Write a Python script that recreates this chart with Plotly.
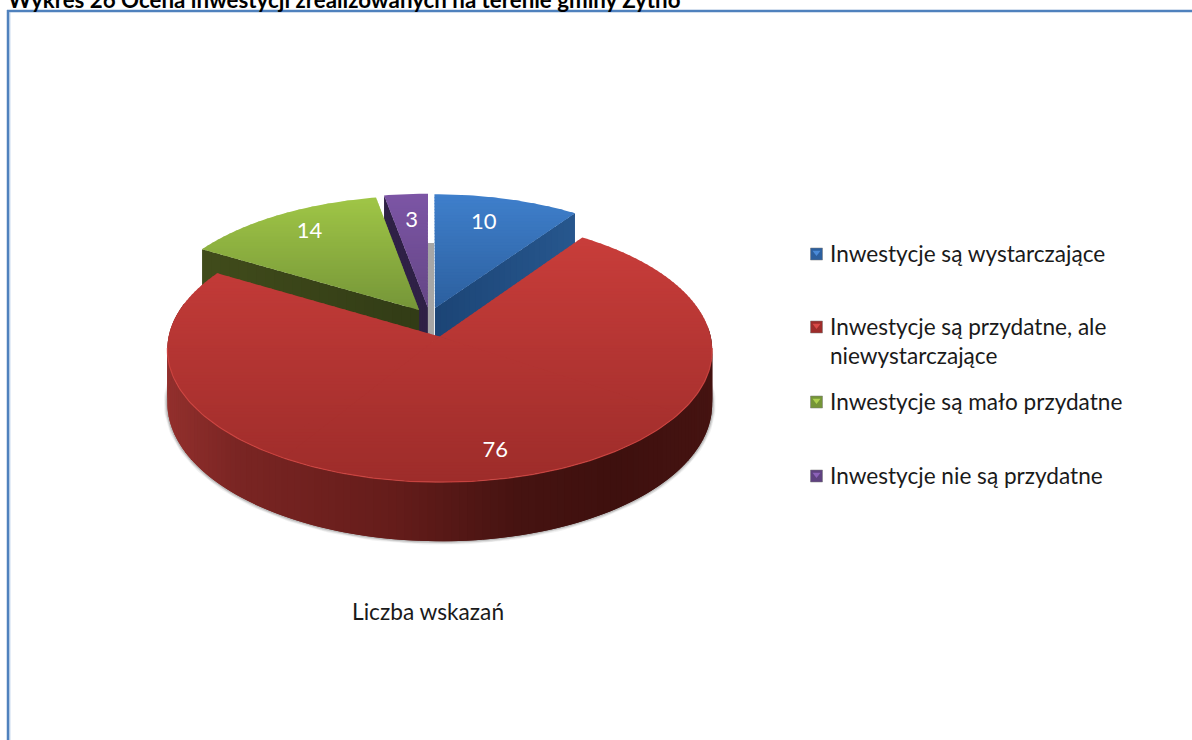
import math
import plotly.graph_objects as go

# ---- data ----
CATEGORIES = ["Inwestycje są wystarczające", "Inwestycje są przydatne, ale<br>niewystarczające",
              "Inwestycje są mało przydatne", "Inwestycje nie są przydatne"]
VALUES = [10, 76, 14, 3]
TITLE = "Wykres 26 Ocena inwestycji zrealizowanych na terenie gminy Żytno"
AXIS_TITLE = "Liczba wskazań"

# ---- styles / projection ----
TOP_COLORS = [("#3f7fcb", "#2c5f9e"), ("#c83d3a", "#9d2c2a"), ("#9fc546", "#759538"), ("#7c55a5", "#644685")]
WALL_COLORS = [("#1c4576", "#27578e"), None, ("#323c16", "#414c1b"), ("#2f2146", "#2f2146")]
RED_WALL = [(166, "#93302d"), (240, "#7a2523"), (400, "#641c1a"), (520, "#461311"), (620, "#3e100e"), (713, "#451311")]
LEGEND_COLORS = [("#2c5f9e", "#4a8ad8"), ("#9d2c2a", "#d84a47"), ("#759538", "#aed14f"), ("#5f4280", "#8c62b8")]
LEGEND_Y = [254, 327, 402, 476]
LEGEND_TEXT_Y = [253, 341, 401, 475]
EXPLODE_X = [0.068, 0.177, 0.068, 0.068]
EXPLODE_Y = 0.115
CX, CY, A, B, K, DEPTH = 429.5, 322, 268, 128, 0.1, 52.5
LABEL_R = 0.77
LABEL_DX = [-8, 7, 0, 1]
LABEL_DY = [1, 8, -3, 3]
FONT = "Lato"


def hex2rgb(h):
    return tuple(int(h[i:i + 2], 16) for i in (1, 3, 5))


def mix(c1, c2, t):
    t = max(0, min(1, t))
    a, b = hex2rgb(c1), hex2rgb(c2)
    return "rgb(%d,%d,%d)" % tuple(round(a[i] + (b[i] - a[i]) * t) for i in range(3))


def project(x, y, depth=0.0):
    w = 1 - K * y
    return CX + A * x / w, CY + B * y / w + depth / w


total = sum(VALUES)
slices = []
start = 0.0
for v in VALUES:
    end = start + 360.0 * v / total
    mid = math.radians((start + end) / 2)
    slices.append((start, end, EXPLODE_X[len(slices)] * math.sin(mid), -EXPLODE_Y * math.cos(mid)))
    start = end


def rim(i, ang, depth=0.0):
    _, _, ox, oy = slices[i]
    r = math.radians(ang)
    return project(ox + math.sin(r), oy - math.cos(r), depth)


def arc(i, a0, a1, depth=0.0, step=1.0):
    n = max(2, int(abs(a1 - a0) / step) + 1)
    return [rim(i, a0 + (a1 - a0) * k / (n - 1), depth) for k in range(n)]


def apex(i, depth=0.0):
    return project(slices[i][2], slices[i][3], depth)


def clip_y(poly, ymin, ymax):
    def cut(p, inside, cross):
        out = []
        for j in range(len(p)):
            c, d = p[j], p[(j + 1) % len(p)]
            if inside(c):
                out.append(c)
            if inside(c) != inside(d):
                out.append(cross(c, d))
        return out

    def at(yv):
        return lambda c, d: (c[0] + (d[0] - c[0]) * (yv - c[1]) / (d[1] - c[1]), yv)

    p = cut(poly, lambda q: q[1] >= ymin, at(ymin))
    if p:
        p = cut(p, lambda q: q[1] <= ymax, at(ymax))
    return p


fig = go.Figure()


def add_poly(pts, color, lw=0):
    xs = [p[0] for p in pts] + [pts[0][0]]
    ys = [p[1] for p in pts] + [pts[0][1]]
    fig.add_trace(go.Scatter(x=xs, y=ys, mode="lines", fill="toself", fillcolor=color,
                             line=dict(color=color, width=lw), hoverinfo="skip", showlegend=False))


def add_line(pts, color, width):
    fig.add_trace(go.Scatter(x=[p[0] for p in pts], y=[p[1] for p in pts], mode="lines",
                             line=dict(color=color, width=width), hoverinfo="skip", showlegend=False))


def top_face(i):
    s, e = slices[i][:2]
    whole = [apex(i)] + arc(i, s, e)
    y0 = min(p[1] for p in whole)
    y1 = max(p[1] for p in whole)
    c0, c1 = TOP_COLORS[i]
    band = 3.0
    # split into overlapping convex sectors so that the band clipping stays simple
    n = max(1, math.ceil((e - s) / 100))
    sectors = []
    for k in range(n):
        a0 = s + (e - s) * k / n
        a1 = min(e, s + (e - s) * (k + 1) / n + 4.0)
        sectors.append([apex(i)] + arc(i, a0, a1))
    y = y0
    while y < y1:
        color = mix(c0, c1, (y - y0) / (y1 - y0))
        for poly in sectors:
            part = clip_y(poly, y, y + band + 1.0)
            if len(part) >= 3:
                add_poly(part, color)
        y += band


def radial_wall(i, ang):
    a = apex(i)
    r = rim(i, ang)
    n = 24
    c0, c1 = WALL_COLORS[i]
    d = DEPTH / 1.08
    for k in range(n):
        t0, t1 = k / n, min(1, (k + 1.6) / n)
        xa, ya = a[0] + (r[0] - a[0]) * t0, a[1] + (r[1] - a[1]) * t0
        xb, yb = a[0] + (r[0] - a[0]) * t1, a[1] + (r[1] - a[1]) * t1
        add_poly([(xa, ya), (xb, yb), (xb, yb + d), (xa, ya + d)], mix(c0, c1, t0))


def red_wall_color(x):
    for (x0, c0), (x1, c1) in zip(RED_WALL, RED_WALL[1:]):
        if x <= x1:
            return mix(c0, c1, (x - x0) / (x1 - x0))
    return mix(RED_WALL[-1][1], RED_WALL[-1][1], 0)


# back to front
radial_wall(3, slices[3][0])
radial_wall(2, slices[2][0])
top_face(2)
top_face(3)
radial_wall(0, slices[0][1])
top_face(0)

# soft shadow under the large slice
lo, hi = 85.0, 285.0
bottom_edge = arc(1, lo, hi, DEPTH)
for width, col in [(7, "rgba(120,120,120,0.10)"), (5, "rgba(110,110,110,0.15)"), (3, "rgba(100,100,100,0.25)")]:
    add_line(bottom_edge, col, width)

# outer wall of the large slice (painted from right to left with overlap)
ang = lo
while ang < hi:
    a1 = min(hi, ang + 3.0)
    p0, p1 = rim(1, ang), rim(1, a1)
    q0, q1 = rim(1, ang, DEPTH), rim(1, a1, DEPTH)
    add_poly([p0, p1, q1, q0], red_wall_color(p0[0]))
    ang += 1.5
top_face(1)
add_line(arc(1, 95, 265), "rgba(214,72,68,0.75)", 1.2)

# data labels
lx, ly, lt = [], [], []
for i, v in enumerate(VALUES):
    s, e, ox, oy = slices[i]
    m = math.radians((s + e) / 2)
    px, py = project(ox + LABEL_R * math.sin(m), oy - LABEL_R * math.cos(m))
    lx.append(px + LABEL_DX[i])
    ly.append(py + LABEL_DY[i])
    lt.append(str(v))
fig.add_trace(go.Scatter(x=lx, y=ly, mode="text", text=lt, textposition="middle center",
                         textfont=dict(family=FONT, size=22, color="#ffffff"),
                         hoverinfo="skip", showlegend=False))

# legend
for i, cat in enumerate(CATEGORIES):
    fig.add_trace(go.Scatter(x=[816.5], y=[LEGEND_Y[i]], mode="markers", hoverinfo="skip", showlegend=False,
                             marker=dict(symbol="square", size=12, color=LEGEND_COLORS[i][0],
                                         line=dict(color="rgba(120,120,120,0.5)", width=1))))
    fig.add_trace(go.Scatter(x=[816.5], y=[LEGEND_Y[i] - 1.5], mode="markers", hoverinfo="skip", showlegend=False,
                             marker=dict(symbol="triangle-down", size=7, color=LEGEND_COLORS[i][1], line=dict(width=0))))
    fig.add_annotation(x=828, y=LEGEND_TEXT_Y[i], text=cat, showarrow=False, xanchor="left", yanchor="middle",
                       align="left", font=dict(family=FONT, size=22.6, color="#1a1a1a"))

fig.add_annotation(x=428, y=611, text=AXIS_TITLE, showarrow=False, xanchor="center", yanchor="middle",
                   font=dict(family=FONT, size=22.7, color="#1a1a1a"))
fig.add_annotation(x=6, y=0, yshift=1, text="<b>%s</b>" % TITLE, showarrow=False, xanchor="left", yanchor="middle",
                   font=dict(family=FONT, size=22.3, color="#000000"))

# gap strip between the small slices and chart frame
shapes = [
    dict(type="rect", x0=427, x1=434, y0=243, y1=336, fillcolor="#a6a6a6", line=dict(width=0), layer="below"),
    dict(type="line", x0=8, x1=8, y0=10, y1=740, line=dict(color="#4f81bd", width=2.5)),
    dict(type="line", x0=7, x1=1192, y0=11, y1=11, line=dict(color="#4f81bd", width=2.5)),
    dict(type="line", x0=9.8, x1=9.8, y0=12, y1=740, line=dict(color="#a9c4e4", width=1)),
]
fig.update_layout(
    width=1192, height=740, margin=dict(l=0, r=0, t=0, b=0), showlegend=False,
    paper_bgcolor="#ffffff", plot_bgcolor="#ffffff", shapes=shapes,
    xaxis=dict(range=[0, 1192], visible=False, fixedrange=True),
    yaxis=dict(range=[740, 0], visible=False, fixedrange=True),
)
fig.write_html("out.html", config={"displayModeBar": False},
               post_script="document.body.style.margin='0';document.body.style.overflow='hidden';")
